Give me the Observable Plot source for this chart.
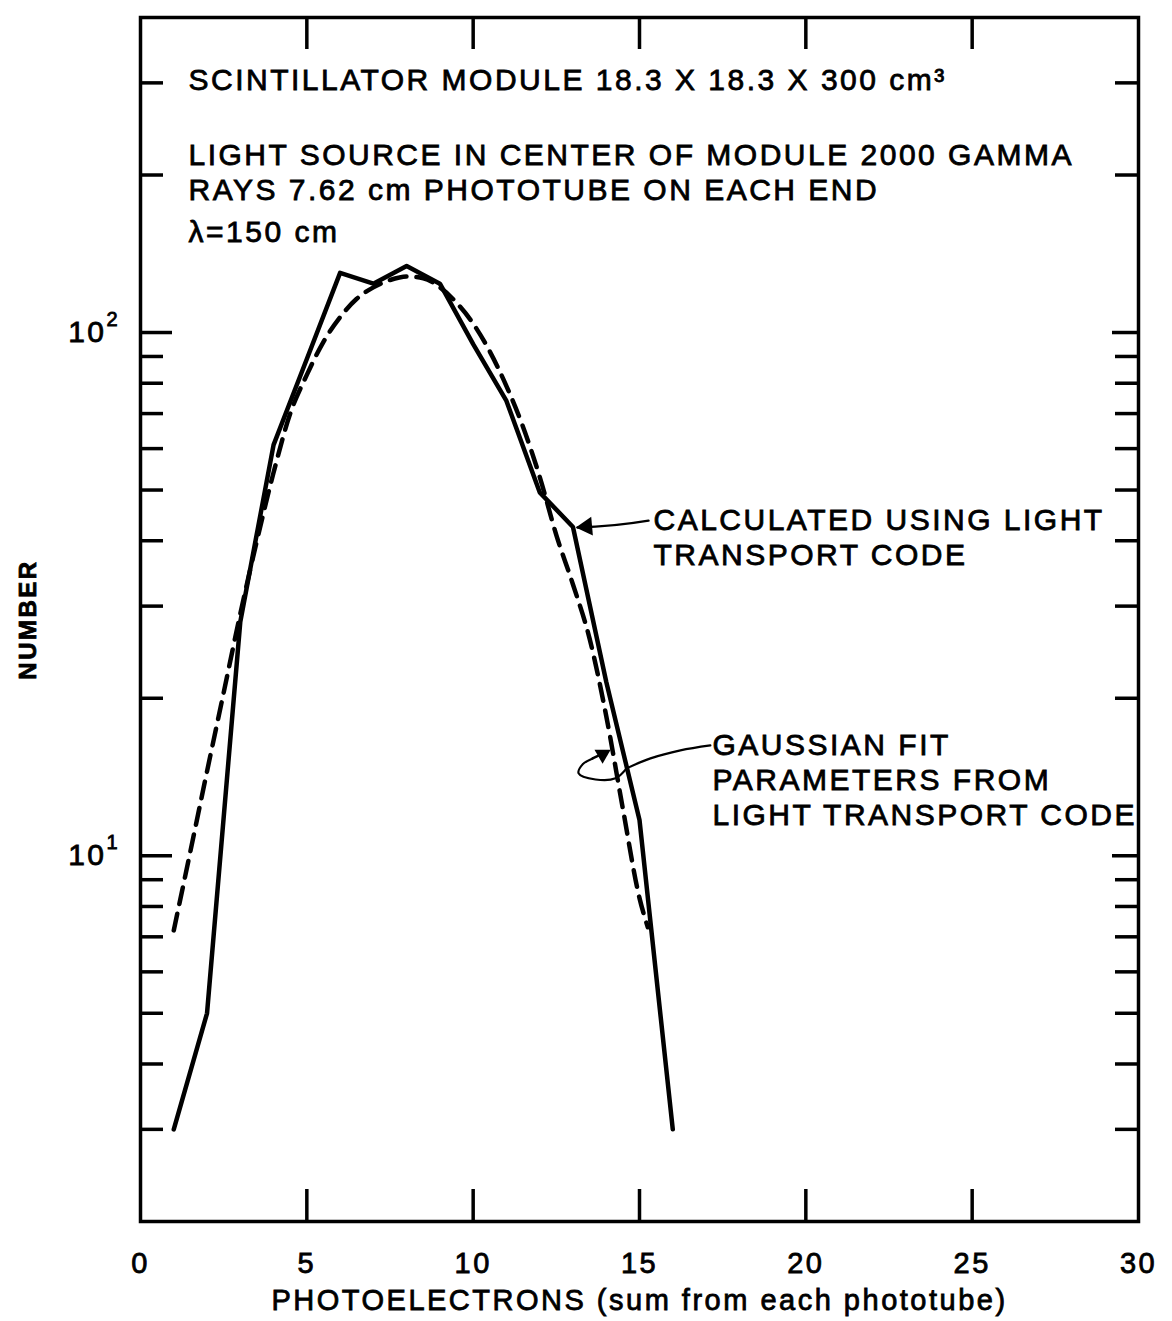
<!DOCTYPE html>
<html>
<head>
<meta charset="utf-8">
<script src="https://cdn.jsdelivr.net/npm/d3@7"></script>
<script src="https://cdn.jsdelivr.net/npm/@observablehq/plot@0.6"></script>
<style>
  html, body { margin: 0; padding: 0; background: #fff; }
  svg text { letter-spacing: 2.5px; stroke: #000; stroke-width: 0.8px; }
</style>
</head>
<body>
<div id="chart"></div>
<script>
// ---- Data ----
// Solid: calculated using light transport code
const calcX = [1, 2, 3, 4, 5, 6, 7, 8, 9, 10, 11, 12, 13, 14, 15, 16];
const calcY = [3, 5, 28, 61, 89, 130, 124, 134, 124, 95, 74, 49.5, 42.5, 21.5, 11.7, 3];

// Dashed: Gaussian fit
const fitX = [1, 1.5, 2, 2.5, 3, 3.5, 4, 4.5, 5, 5.5, 6, 6.5, 7, 7.5, 8, 8.5, 9, 9.5, 10, 10.5, 11, 11.5, 12, 12.5, 13, 13.5, 14, 14.5, 15, 15.25];
const fitY = [7.2, 10.2, 14.5, 20.5, 29, 40, 54, 70, 83, 96, 107, 116, 122, 126, 128, 127, 122, 114, 104, 92, 79, 66, 53, 41, 33, 26, 18.5, 12.3, 8.3, 7.3];

// Axes
const xTicks = [5, 10, 15, 20, 25];
const xTickLabels = [0, 5, 10, 15, 20, 25, 30];
const yMajor = [10, 100];
const yMinor = [3, 4, 5, 6, 7, 8, 9, 20, 30, 40, 50, 60, 70, 80, 90, 200, 300];
const yMajorBase = ["10", "10"];
const yMajorExp = ["1", "2"];

// Text
const headerLines = [
  "SCINTILLATOR MODULE 18.3 X 18.3 X 300 cm\u00B3",
  "LIGHT SOURCE IN CENTER OF MODULE 2000 GAMMA",
  "RAYS 7.62 cm PHOTOTUBE ON EACH END",
  "\u03BB=150 cm"
];
const calcLabel = ["CALCULATED USING LIGHT", "TRANSPORT CODE"];
const fitLabel = ["GAUSSIAN FIT", "PARAMETERS FROM", "LIGHT TRANSPORT CODE"];
const xTitle = "PHOTOELECTRONS (sum from each phototube)";
const yTitle = "NUMBER";

// Annotation leaders (data coordinates)
const calcArrowPts = [{x1: 15.27, y1: 43.7, x2: 13.14, y2: 42.4}];
const fitLeaderX = [17.13, 16.23, 15.33, 14.61];
const fitLeaderY = [16.25, 15.9, 15.35, 14.69];
const fitLoopX = [14.61, 14.28, 13.68, 13.17, 13.29, 13.59];
const fitLoopY = [14.69, 14.06, 13.99, 14.37, 14.95, 15.35];
const fitArrowPts = [{x1: 13.59, y1: 15.35, x2: 14.04, y2: 15.83}];

// ---- Build tables ----
const calc = calcX.map((x, i) => ({x, y: calcY[i]}));
const fit = fitX.map((x, i) => ({x, y: fitY[i]}));
const fitLeader = fitLeaderX.map((x, i) => ({x, y: fitLeaderY[i]}));
const fitLoop = fitLoopX.map((x, i) => ({x, y: fitLoopY[i]}));

// ---- Layout ----
const W = 1172, H = 1321;
const mL = 140, mR = 34, mT = 17, mB = 100;
const iw = W - mL - mR, ih = H - mT - mB;
const FONT = "Liberation Sans, Arial, sans-serif";
const headerDy = [63, 138, 173, 215];

const marks = [
  Plot.frame({stroke: "black", strokeWidth: 3.5}),
  // left ticks
  Plot.tickY(yMajor, {y: d => d, insetRight: iw - 32, strokeWidth: 3.5}),
  Plot.tickY(yMinor, {y: d => d, insetRight: iw - 23, strokeWidth: 3.5}),
  // right ticks
  Plot.tickY(yMajor, {y: d => d, insetLeft: iw - 26, strokeWidth: 3.5}),
  Plot.tickY(yMinor, {y: d => d, insetLeft: iw - 23, strokeWidth: 3.5}),
  // top and bottom ticks
  Plot.tickX(xTicks, {x: d => d, insetBottom: ih - 32, strokeWidth: 3.5}),
  Plot.tickX(xTicks, {x: d => d, insetTop: ih - 32, strokeWidth: 3.5}),
  // axis labels
  Plot.axisX(xTickLabels, {anchor: "bottom", tickSize: 0, tickPadding: 31, fontSize: 29, label: null}),
  Plot.axisY(yMajor, {anchor: "left", tickSize: 0, tickPadding: 34, fontSize: 30, label: null,
    tickFormat: d => yMajorBase[yMajor.indexOf(d)]}),
  Plot.text(yMajor, {y: d => d, frameAnchor: "left", text: (d, i) => yMajorExp[i], dx: -34, dy: -13, textAnchor: "start", fontSize: 20}),
  Plot.text([yTitle], {frameAnchor: "left", dx: -112, rotate: -90, textAnchor: "middle", fontSize: 24, fontWeight: "bold"}),
  Plot.text([xTitle], {frameAnchor: "bottom", dy: 79, textAnchor: "middle", lineAnchor: "middle", fontSize: 29}),
  // curves
  Plot.line(fit, {x: "x", y: "y", stroke: "black", strokeWidth: 4.5, strokeDasharray: "17,10", curve: "monotone-x", strokeLinecap: "round"}),
  Plot.line(calc, {x: "x", y: "y", stroke: "black", strokeWidth: 4.5, strokeLinejoin: "round", strokeLinecap: "round"}),
  // leaders
  Plot.arrow(calcArrowPts, {x1: "x1", y1: "y1", x2: "x2", y2: "y2", bend: 4, headLength: 0, strokeWidth: 2.5, stroke: "black"}),
  Plot.dot(calcArrowPts, {x: "x2", y: "y2", symbol: "triangle", r: 7, fill: "black", rotate: -95, dx: 9, dy: -1}),
  Plot.line(fitLeader, {x: "x", y: "y", curve: "catmull-rom", strokeWidth: 2.2, stroke: "black"}),
  Plot.line(fitLoop, {x: "x", y: "y", curve: "catmull-rom", strokeWidth: 2.2, stroke: "black"}),
  Plot.arrow(fitArrowPts, {x1: "x1", y1: "y1", x2: "x2", y2: "y2", headLength: 0, strokeWidth: 2.5, stroke: "black"}),
  Plot.dot(fitArrowPts, {x: "x2", y: "y2", symbol: "triangle", r: 6, fill: "black", rotate: 60, dx: -5, dy: 3})
];

headerLines.forEach((t, i) => {
  marks.push(Plot.text([t], {frameAnchor: "top-left", dx: 48, dy: headerDy[i], lineAnchor: "middle", textAnchor: "start", fontSize: 30}));
});
calcLabel.forEach((t, i) => {
  marks.push(Plot.text([t], {frameAnchor: "top-left", dx: 513, dy: 503 + 35 * i, lineAnchor: "middle", textAnchor: "start", fontSize: 30}));
});
fitLabel.forEach((t, i) => {
  marks.push(Plot.text([t], {frameAnchor: "top-left", dx: 572, dy: 728 + 35 * i, lineAnchor: "middle", textAnchor: "start", fontSize: 30}));
});

const chart = Plot.plot({
  width: W,
  height: H,
  marginLeft: mL,
  marginRight: mR,
  marginTop: mT,
  marginBottom: mB,
  x: {domain: [0, 30], axis: null},
  y: {type: "log", domain: [2, 400], axis: null},
  style: {fontFamily: FONT, fontSize: "29px", color: "black", background: "white"},
  marks
});
document.getElementById("chart").appendChild(chart);
</script>
</body>
</html>
